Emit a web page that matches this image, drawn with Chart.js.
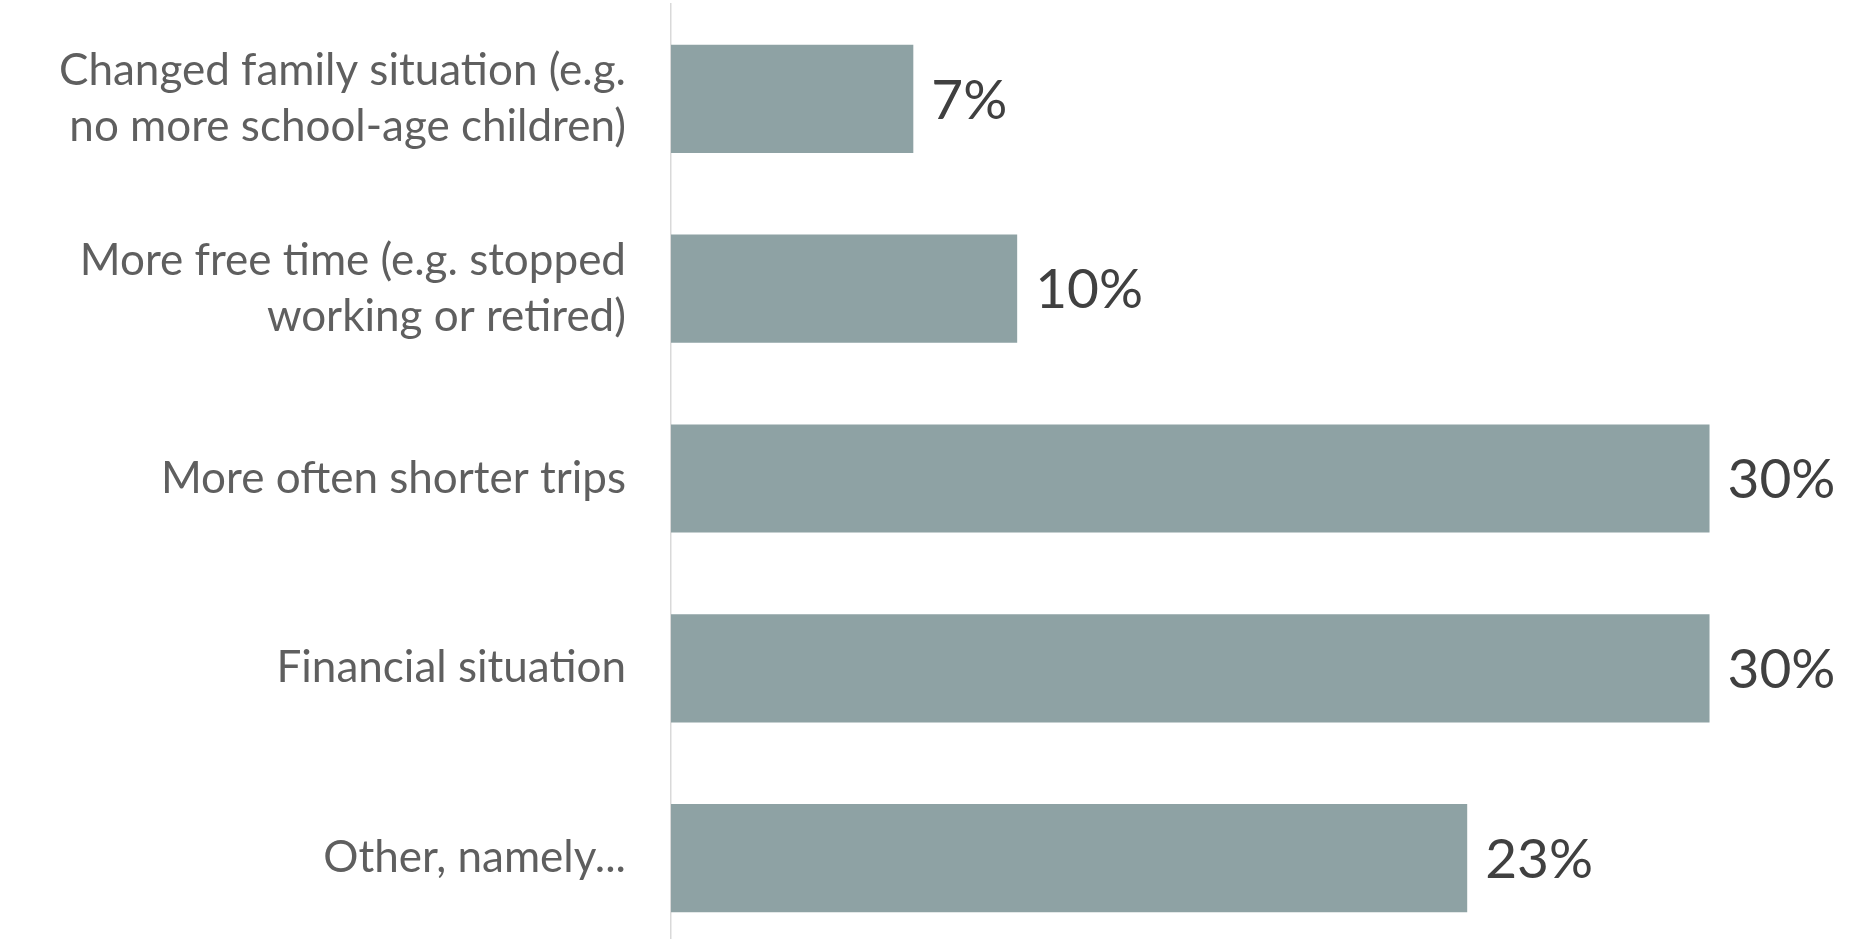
<!DOCTYPE html>
<html>
<head>
<meta charset="utf-8">
<script src="https://cdn.jsdelivr.net/npm/chart.js@4/dist/chart.umd.min.js"></script>
<style>
  html, body { margin: 0; padding: 0; background: #ffffff; overflow: hidden; }
  #wrap { position: relative; width: 1859px; height: 953px; }
</style>
</head>
<body>
<div id="wrap"><canvas id="grafico"></canvas></div>
<script>
// Motivos e percentuais
const motivos = [
  ["Changed family situation (e.g.", "no more school-age children)"],
  ["More free time (e.g. stopped", "working or retired)"],
  "More often shorter trips",
  "Financial situation",
  "Other, namely..."
];
const percentuais = [7, 10, 30, 30, 23];

const corBarra = "#8ea2a4";
const corTexto = "#5f5f5f";
const corValor = "#404040";
const fonte = "Lato, 'Open Sans', sans-serif";

// escreve o valor ao lado de cada barra
const rotulosValor = {
  id: "rotulosValor",
  afterDatasetsDraw(chart) {
    const ctx = chart.ctx;
    const meta = chart.getDatasetMeta(0);
    ctx.save();
    ctx.font = "400 55px " + fonte;
    ctx.fillStyle = corValor;
    ctx.textAlign = "left";
    ctx.textBaseline = "middle";
    meta.data.forEach((barra, i) => {
      ctx.fillText(percentuais[i] + "%", barra.x + 18, barra.y + 2);
    });
    ctx.restore();
  }
};

new Chart(document.getElementById("grafico").getContext("2d"), {
  type: "bar",
  data: {
    labels: motivos,
    datasets: [{
      data: percentuais,
      backgroundColor: corBarra,
      borderWidth: 0,
      barPercentage: 0.57,
      categoryPercentage: 1
    }]
  },
  options: {
    indexAxis: "y",
    responsive: true,
    maintainAspectRatio: false,
    animation: false,
    layout: { padding: { top: 4, right: 11, bottom: 0, left: 0 } },
    plugins: {
      legend: { display: false },
      tooltip: { enabled: false }
    },
    scales: {
      x: {
        display: false,
        min: 0,
        max: 34
      },
      y: {
        afterFit(scale) {
          // largura fixa da coluna de rótulos, sem folga extra em cima/embaixo
          scale.width = 671;
          scale.paddingTop = 0;
          scale.paddingBottom = 0;
        },
        grid: { display: false, drawTicks: false },
        border: { display: true, color: "#d9d9d9", width: 1.5 },
        ticks: {
          padding: 45,
          color: corTexto,
          font: { family: fonte, size: 44, weight: 400, lineHeight: 1.28 }
        }
      }
    }
  },
  plugins: [rotulosValor]
});
</script>
</body>
</html>
